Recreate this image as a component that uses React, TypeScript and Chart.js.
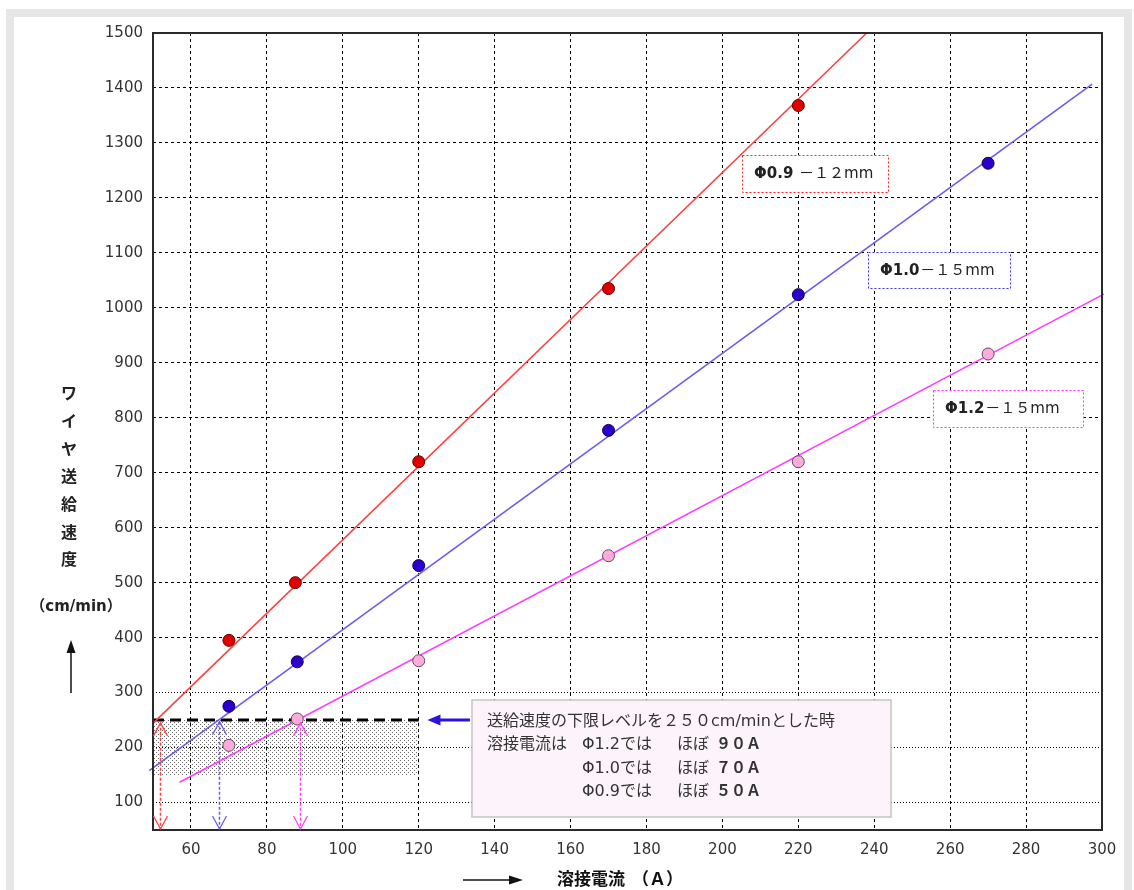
import React, { useEffect, useRef } from "react";
import { Chart, registerables } from "chart.js";

Chart.register(...registerables);

// ---------- data ----------
const xTicks = [60, 80, 100, 120, 140, 160, 180, 200, 220, 240, 260, 280, 300];
const yTicks = [100, 200, 300, 400, 500, 600, 700, 800, 900, 1000, 1100, 1200, 1300, 1400, 1500];
const fineGridY = [100, 200, 300];

const current09 = [70, 87.5, 120, 170, 220];
const feed09 = [395, 500, 720, 1035, 1368];
const current10 = [70, 88, 120, 170, 220, 270];
const feed10 = [275, 356, 531, 777, 1024, 1263];
const current12 = [70, 88, 120, 170, 220, 270];
const feed12 = [204, 252, 358, 549, 720, 916];

const fitCurrent09 = [50, 238];
const fitFeed09 = [244, 1500];
const fitCurrent10 = [49, 297.4];
const fitFeed10 = [158, 1407];
const fitCurrent12 = [57, 300.5];
const fitFeed12 = [137, 1025];

const limitCurrent = [50, 120];
const limitFeed = [250, 250];
const limitBandFloor = 150;

const arrowCurrent = [51.8, 67.4, 88.7];
const arrowTop = [245, 247, 245];
const pointerCurrent = [133.5, 122.3];
const pointerFeed = 250;

// ---------- text ----------
const legendTexts = [
  ["Φ0.9", " －１２mm"],
  ["Φ1.0", "－１５mm"],
  ["Φ1.2", "－１５mm"],
];
const yTitleChars = ["ワ", "イ", "ヤ", "送", "給", "速", "度"];
const yTitleUnit = "（cm/min）";
const xTitle = "溶接電流";
const xTitleUnit = "（Ａ）";
const noteLine1 = "送給速度の下限レベルを２５０cm/minとした時";
const noteRows = [
  ["溶接電流は", "Φ1.2では", "ほぼ", "９０Ａ"],
  ["", "Φ1.0では", "ほぼ", "７０Ａ"],
  ["", "Φ0.9では", "ほぼ", "５０Ａ"],
];

// ---------- styles ----------
const FAMILY = '"DejaVu Sans", "Noto Sans CJK JP", sans-serif';
const RED_LINE = "#ff4040";
const BLUE_LINE = "#6b5cf0";
const PINK_LINE = "#ff3cff";

const pts = (xs: number[], ys: number[]) => xs.map((x, i) => ({ x, y: ys[i] }));

function makeStipple(): any {
  const c = document.createElement("canvas");
  c.width = 4;
  c.height = 4;
  const g = c.getContext("2d")!;
  g.fillStyle = "#6a6a6a";
  g.fillRect(0, 0, 1, 1);
  g.fillRect(2, 2, 1, 1);
  return g.createPattern(c, "repeat");
}

const overlayPlugin = {
  id: "overlay",
  afterDatasetsDraw(chart: any) {
    const { ctx, chartArea: a } = chart;
    const x = chart.scales.x;
    const y = chart.scales.y;
    ctx.save();

    // plot frame
    ctx.setLineDash([]);
    ctx.strokeStyle = "#2a2a2a";
    ctx.lineWidth = 2;
    ctx.strokeRect(a.left, a.top, a.right - a.left, a.bottom - a.top);

    // vertical double arrows
    const arrowColors = [RED_LINE, BLUE_LINE, PINK_LINE];
    arrowCurrent.forEach((c, i) => {
      const px = Math.round(x.getPixelForValue(c)) + 0.5;
      const top = y.getPixelForValue(arrowTop[i]);
      const bottom = a.bottom - 1;
      ctx.strokeStyle = arrowColors[i];
      ctx.lineWidth = 1.5;
      ctx.setLineDash([3, 2]);
      ctx.beginPath();
      ctx.moveTo(px, top);
      ctx.lineTo(px, bottom);
      ctx.stroke();
      ctx.setLineDash([]);
      ctx.lineWidth = 1.3;
      ctx.beginPath();
      ctx.moveTo(px - 7, top + 13);
      ctx.lineTo(px, top);
      ctx.lineTo(px + 7, top + 13);
      ctx.moveTo(px - 7, bottom - 13);
      ctx.lineTo(px, bottom);
      ctx.lineTo(px + 7, bottom - 13);
      ctx.stroke();
    });

    // blue pointer arrow
    const tail = x.getPixelForValue(pointerCurrent[0]);
    const tip = x.getPixelForValue(pointerCurrent[1]);
    const py = y.getPixelForValue(pointerFeed);
    ctx.strokeStyle = "#2b12e0";
    ctx.fillStyle = "#2b12e0";
    ctx.lineWidth = 3;
    ctx.beginPath();
    ctx.moveTo(tail, py);
    ctx.lineTo(tip + 10, py);
    ctx.stroke();
    ctx.beginPath();
    ctx.moveTo(tip, py);
    ctx.lineTo(tip + 13, py - 5.5);
    ctx.lineTo(tip + 13, py + 5.5);
    ctx.closePath();
    ctx.fill();

    // note box
    ctx.fillStyle = "#fcf4fa";
    ctx.fillRect(472, 700, 419, 117);
    ctx.strokeStyle = "#c4c4c4";
    ctx.lineWidth = 1.5;
    ctx.strokeRect(472, 700, 419, 117);
    ctx.fillStyle = "#333";
    ctx.textBaseline = "middle";
    ctx.textAlign = "left";
    ctx.font = `16px ${FAMILY}`;
    ctx.fillText(noteLine1, 487, 722);
    const rowY = [745, 769, 792];
    noteRows.forEach((r, i) => {
      ctx.font = `16px ${FAMILY}`;
      if (r[0]) ctx.fillText(r[0], 487, rowY[i]);
      ctx.fillText(r[1], 582, rowY[i]);
      ctx.fillText(r[2], 677, rowY[i]);
      ctx.font = `bold 15px ${FAMILY}`;
      ctx.fillText(r[3], 716, rowY[i]);
    });

    // legend boxes
    const boxes = [
      { x: 742, y: 155, w: 146, h: 37, c: "#ff2020" },
      { x: 868, y: 252, w: 142, h: 36, c: "#3a2ee8" },
      { x: 933, y: 390, w: 150, h: 37, c: "#ff30ff" },
    ];
    boxes.forEach((b, i) => {
      ctx.fillStyle = "#fff";
      ctx.fillRect(b.x, b.y, b.w, b.h);
      ctx.strokeStyle = b.c;
      ctx.lineWidth = 1;
      ctx.setLineDash([2, 2]);
      ctx.strokeRect(b.x + 0.5, b.y + 0.5, b.w, b.h);
      ctx.setLineDash([]);
      ctx.fillStyle = "#222";
      ctx.font = `bold 15px ${FAMILY}`;
      const tx = b.x + 12;
      const ty = b.y + b.h / 2 + 1;
      ctx.fillText(legendTexts[i][0], tx, ty);
      const w = ctx.measureText(legendTexts[i][0]).width;
      ctx.font = `15px ${FAMILY}`;
      ctx.fillText(legendTexts[i][1], tx + w + 1, ty);
    });

    // y axis title
    ctx.fillStyle = "#222";
    ctx.textAlign = "center";
    ctx.font = `bold 16px ${FAMILY}`;
    yTitleChars.forEach((ch, i) => ctx.fillText(ch, 69, 395 + i * 27.7));
    ctx.font = `bold 15px ${FAMILY}`;
    ctx.fillText(yTitleUnit, 76, 607);
    ctx.strokeStyle = "#111";
    ctx.fillStyle = "#111";
    ctx.lineWidth = 1.5;
    ctx.beginPath();
    ctx.moveTo(71, 693);
    ctx.lineTo(71, 650);
    ctx.stroke();
    ctx.beginPath();
    ctx.moveTo(71, 640);
    ctx.lineTo(66.5, 653);
    ctx.lineTo(75.5, 653);
    ctx.closePath();
    ctx.fill();

    // x axis title
    ctx.textAlign = "left";
    ctx.font = `bold 17px ${FAMILY}`;
    ctx.fillText(xTitle, 557, 881);
    ctx.fillText(xTitleUnit, 632, 881);
    ctx.beginPath();
    ctx.moveTo(463, 880);
    ctx.lineTo(512, 880);
    ctx.stroke();
    ctx.beginPath();
    ctx.moveTo(523, 880);
    ctx.lineTo(509, 875.5);
    ctx.lineTo(509, 884.5);
    ctx.closePath();
    ctx.fill();

    ctx.restore();
  },
};

export default function App() {
  const ref = useRef<HTMLCanvasElement | null>(null);

  useEffect(() => {
    if (!ref.current) return;
    const stipple = makeStipple();
    const pointDs = (xs: number[], ys: number[], fill: string, border: string) => ({
      type: "line" as const,
      data: pts(xs, ys),
      showLine: false,
      pointRadius: 6,
      pointBackgroundColor: fill,
      pointBorderColor: border,
      pointBorderWidth: 1,
      borderColor: border,
    });
    const fitDs = (xs: number[], ys: number[], color: string) => ({
      type: "line" as const,
      data: pts(xs, ys),
      borderColor: color,
      borderWidth: 1.6,
      pointRadius: 0,
      clip: false as const,
      fill: false,
    });
    const chart = new Chart(ref.current, {
      type: "line",
      data: {
        datasets: [
          pointDs(current09, feed09, "#e00000", "#5a0000"),
          pointDs(current10, feed10, "#2a00cc", "#14004a"),
          pointDs(current12, feed12, "#ffaadd", "#555555"),
          fitDs(fitCurrent09, fitFeed09, RED_LINE),
          fitDs(fitCurrent10, fitFeed10, BLUE_LINE),
          fitDs(fitCurrent12, fitFeed12, PINK_LINE),
          {
            type: "line",
            data: pts(limitCurrent, limitFeed),
            borderColor: "#000",
            borderWidth: 3,
            borderDash: [11, 6],
            pointRadius: 0,
            fill: { value: limitBandFloor },
            backgroundColor: stipple,
          } as any,
        ],
      },
      options: {
        animation: false,
        responsive: false,
        devicePixelRatio: 1,
        layout: { padding: { left: 0, top: 33, right: 32, bottom: 20 } },
        plugins: { legend: { display: false }, tooltip: { enabled: false } },
        scales: {
          x: {
            type: "linear",
            min: 50,
            max: 300,
            afterBuildTicks: (s: any) => {
              s.ticks = xTicks.map((v) => ({ value: v }));
            },
            afterFit: (s: any) => {
              s.height = 40;
            },
            grid: {
              color: (c: any) => (c.tick && c.tick.value >= 300 ? "rgba(0,0,0,0)" : "#000"),
              lineWidth: 1,
              drawTicks: false,
            },
            border: { display: false, dash: [3, 3] },
            ticks: {
              color: "#333",
              font: { size: 15, family: FAMILY },
              padding: 11,
              maxRotation: 0,
              autoSkip: false,
              callback: (v: any) => String(v),
            },
          },
          y: {
            type: "linear",
            min: 50,
            max: 1500,
            afterBuildTicks: (s: any) => {
              s.ticks = yTicks.map((v) => ({ value: v }));
            },
            afterFit: (s: any) => {
              s.width = 153;
            },
            grid: {
              color: (c: any) => (c.tick && c.tick.value >= 1500 ? "rgba(0,0,0,0)" : "#000"),
              lineWidth: 1,
              drawTicks: false,
            },
            border: {
              display: false,
              dash: (c: any) => (c.tick && fineGridY.includes(c.tick.value) ? [1, 2] : [3, 3]),
            },
            ticks: {
              color: "#333",
              font: { size: 15, family: FAMILY },
              padding: 10,
              autoSkip: false,
              callback: (v: any) => String(v),
            },
          },
        },
      },
      plugins: [overlayPlugin],
    });
    return () => chart.destroy();
  }, []);

  return (
    <div
      style={{
        position: "fixed",
        left: 0,
        top: 0,
        width: 1134,
        height: 890,
        background: "#fff",
        overflow: "hidden",
      }}
    >
      <div
        style={{
          position: "absolute",
          left: 6,
          top: 9,
          width: 1126,
          height: 900,
          border: "8px solid #e6e6e6",
          boxSizing: "border-box",
        }}
      />
      <canvas
        ref={ref}
        width={1134}
        height={890}
        style={{ position: "absolute", left: 0, top: 0, display: "block" }}
      />
    </div>
  );
}
